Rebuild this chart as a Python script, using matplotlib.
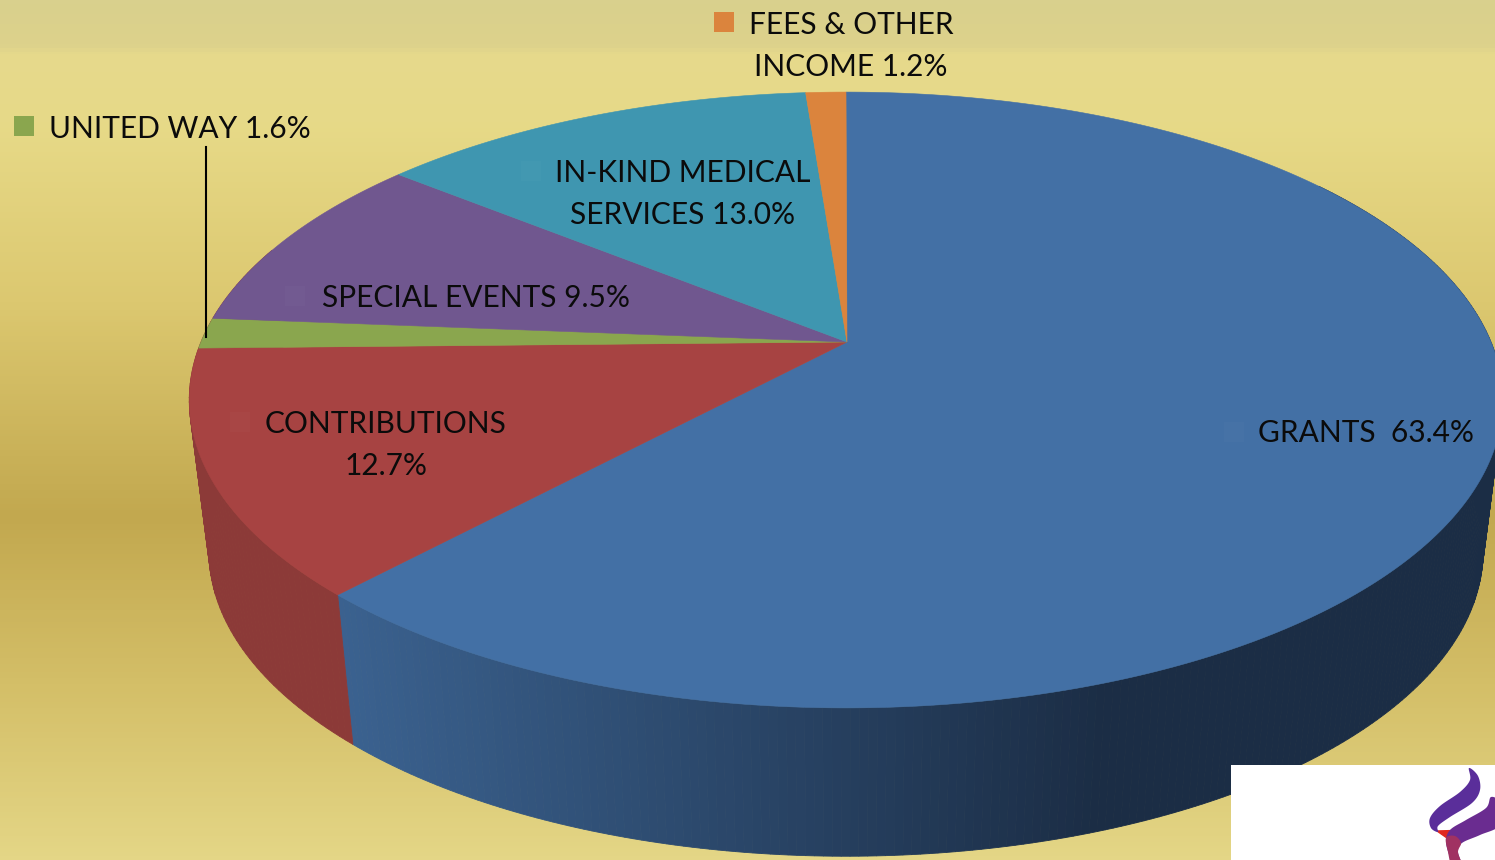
import numpy as np
import matplotlib
matplotlib.use("Agg")
import matplotlib.pyplot as plt
from matplotlib.colors import LinearSegmentedColormap, to_rgb
from matplotlib.patches import Rectangle

categories = ["GRANTS", "CONTRIBUTIONS", "UNITED WAY", "SPECIAL EVENTS", "IN-KIND MEDICAL SERVICES", "FEES & OTHER INCOME"]
shares = [63.4, 12.7, 1.6, 9.5, 13.0, 1.2]
slice_colors = ["#4370a5", "#a74342", "#8aa64e", "#70578f", "#3f96b0", "#db843d"]
label_texts = ["GRANTS  63.4%", "CONTRIBUTIONS\n12.7%", "UNITED WAY 1.6%", "SPECIAL EVENTS 9.5%",
               "IN-KIND MEDICAL\nSERVICES 13.0%", "FEES & OTHER\nINCOME 1.2%"]
label_xy = [(1366, 433), (386, 445), (180, 129), (476, 298), (683, 194), (851, 46)]
key_xy = [(1224, 422), (230, 412), (14, 116), (285, 286), (521, 161), (714, 12)]
key_alpha = [0.25, 0.25, 1, 0.25, 0.25, 1]

W, H = 1495, 860
fig = plt.figure(figsize=(W / 100, H / 100), dpi=100)
ax = fig.add_axes([0, 0, 1, 1])
ax.set_xlim(0, W)
ax.set_ylim(H, 0)
ax.axis("off")
plt.rcParams["font.family"] = ["Lato", "DejaVu Sans"]

# background
bg = LinearSegmentedColormap.from_list("bg", [
    (0.0, "#d9d08d"), (0.05, "#ddd28b"), (0.06, "#e6d98c"), (0.14, "#e7da88"),
    (0.35, "#dcc870"), (0.60, "#c2a84f"), (0.80, "#d4bf68"), (1.0, "#e4d686")])
ax.imshow(np.linspace(0, 1, 430)[:, None], cmap=bg, extent=(0, W, H, 0), aspect="auto", zorder=0)

CX, AY, D, A, C = 846.0, 342.0, 645.0, 297.0, 0.1883
SX, SY, DROP = 0.97, 0.99, 152.0
WARP = np.radians(1.35)


def project(theta, lower=False):
    theta = theta - WARP * (1 - np.cos(theta))
    u, v = np.sin(theta), np.cos(theta)
    den = 1 + C * v
    x, h = D * u / den, A * v / den
    if lower:
        x, h = SX * x, SY * h - DROP
    return CX + x, AY - h


fractions = np.array(shares) / np.sum(shares)
edges = np.concatenate([[0], np.cumsum(fractions)]) * 2 * np.pi

# side walls (only front-facing parts)
side_left = np.array(to_rgb("#8c3a38"))
grant_l, grant_r = np.array(to_rgb("#3b6290")), np.array(to_rgb("#1b2d45"))
steps = np.linspace(np.radians(55), edges[1], 260)
for a, b in zip(steps[:-1], steps[1:]):
    xt = np.concatenate([project(np.array([a, b]))[0], project(np.array([b, a]), True)[0]])
    yt = np.concatenate([project(np.array([a, b]))[1], project(np.array([b, a]), True)[1]])
    t = np.clip((xt.mean() - 340) / 760, 0, 1)
    col = grant_l + (grant_r - grant_l) * t
    ax.fill(xt, yt, color=col, lw=0.6, zorder=1)
steps = np.linspace(edges[1], np.radians(290), 80)
for a, b in zip(steps[:-1], steps[1:]):
    xt = np.concatenate([project(np.array([a, b]))[0], project(np.array([b, a]), True)[0]])
    yt = np.concatenate([project(np.array([a, b]))[1], project(np.array([b, a]), True)[1]])
    ax.fill(xt, yt, color=side_left, lw=0.6, zorder=1)

# top faces
for i, col in enumerate(slice_colors):
    th = np.linspace(edges[i], edges[i + 1], max(int(fractions[i] * 800), 8))
    x, y = project(th)
    ax.fill(np.r_[CX + 1, x], np.r_[AY, y], color=col, lw=0.4, zorder=2)

# legend keys and labels
for (kx, ky), al, col in zip(key_xy, key_alpha, slice_colors):
    ax.add_patch(Rectangle((kx, ky), 20, 20, fc=col if al == 1 else "#ffffff", alpha=1 if al == 1 else 0.02, ec="none", zorder=3))
for txt, (tx, ty) in zip(label_texts, label_xy):
    ax.text(tx, ty, txt, ha="center", va="center", ma="center", fontsize=21.5, color="#0b0b0b",
            linespacing=1.62, zorder=4)

# leader line
ax.plot([206, 206], [147, 337], color="black", lw=1.5, zorder=4)

# logo box
ax.add_patch(Rectangle((1231, 765), 264, 95, fc="white", ec="none", zorder=5))


def smooth(points, color, z=6):
    p = np.array(points, float)
    n = len(p)
    out = []
    for i in range(n):
        p0, p1, p2, p3 = p[i - 1], p[i], p[(i + 1) % n], p[(i + 2) % n]
        for t in np.linspace(0, 1, 12, endpoint=False):
            out.append(0.5 * (2 * p1 + (p2 - p0) * t + (2 * p0 - 5 * p1 + 4 * p2 - p3) * t ** 2
                              + (3 * p1 - p0 - 3 * p2 + p3) * t ** 3))
    out = np.array(out)
    ax.fill(out[:, 0], out[:, 1], color=color, lw=0, zorder=z)


ax.fill([1437, 1447, 1452, 1470], [831, 838, 832, 830], color="#e0281e", zorder=6)
ax.fill([1470, 1495, 1495], [833, 822, 814], color="#e0281e", zorder=6)
smooth([(1469, 768), (1478, 776), (1480, 790), (1472, 803), (1450, 817), (1438, 826), (1438, 832),
        (1431, 828), (1430, 818), (1440, 806), (1460, 792), (1470, 780)], "#5a2e9a", 7)
smooth([(1491, 797), (1486, 808), (1466, 820), (1450, 830), (1446, 842), (1450, 858), (1452, 866),
        (1462, 866), (1458, 852), (1462, 843), (1480, 835), (1500, 825), (1500, 803)], "#6a2c90", 8)
smooth([(1446, 838), (1448, 852), (1452, 866), (1462, 866), (1458, 852), (1461, 843), (1455, 836)], "#a03262", 9)

fig.savefig("out.png", dpi=100)
